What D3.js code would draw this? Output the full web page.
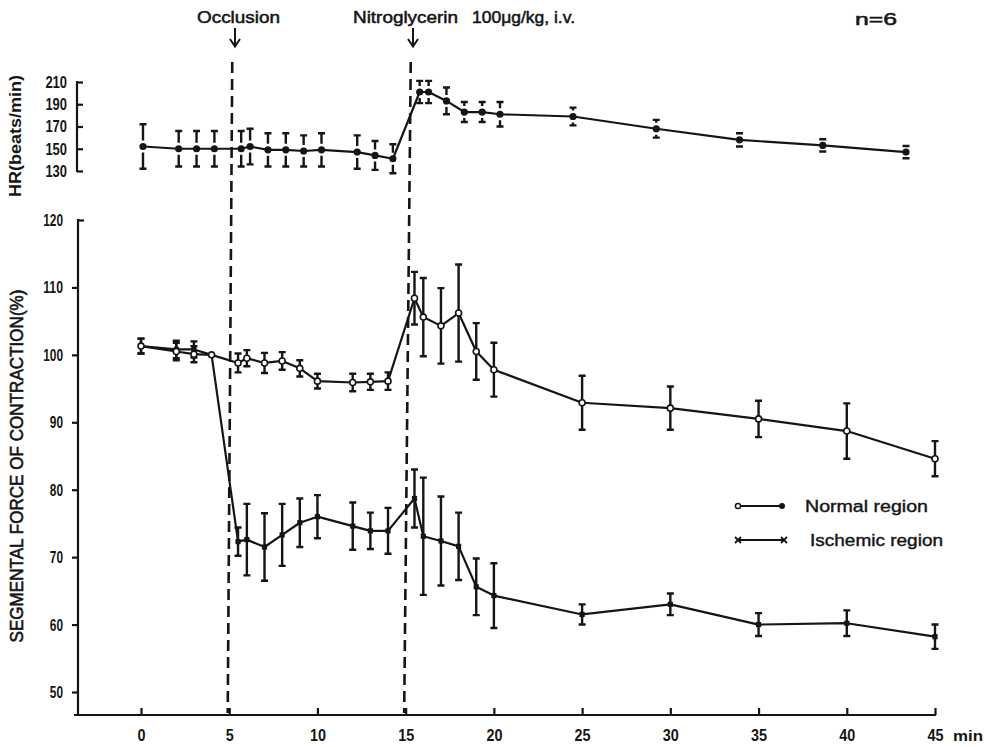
<!DOCTYPE html>
<html>
<head>
<meta charset="utf-8">
<script src="https://cdn.jsdelivr.net/npm/d3@7"></script>
<style>
  body { margin: 0; background: #fff; }
  text { font-family: "Liberation Sans", Arial, sans-serif; fill: #151515; }
</style>
</head>
<body>
<div id="canvas"></div>
<script>
// time points (min)
const times = [0, 2, 3, 4, 5.5, 6, 7, 8, 9, 10, 12, 13, 14, 15.5, 16, 17, 18, 19, 20, 25, 30, 35, 40, 45];

// heart rate (beats/min), mean and SD
const hrMean = [152, 150, 150, 150, 150, 152, 149, 149, 148, 149, 147, 144, 141, 201, 201, 193, 183, 183, 181, 179, 168, 158, 153, 147];
const hrSd = [20, 16, 16, 16, 16, 16, 15, 15, 14, 15, 15, 13, 13, 10, 10, 12, 9, 9, 11, 8, 8, 6, 5.5, 5.5];

// segmental force of contraction (%)
const normalMean = [101.3, 100.5, 100.1, 100.0, 98.8, 99.5, 98.8, 99.1, 98.0, 96.1, 95.9, 96.0, 96.1, 108.4, 105.6, 104.3, 106.2, 100.5, 97.8, 92.9, 92.1, 90.5, 88.7, 84.6];
const normalSd = [1.1, 1.3, 1.2, 0, 1.4, 1.2, 1.5, 1.3, 1.2, 1.1, 1.3, 1.2, 1.3, 3.9, 5.8, 5.6, 7.2, 4.2, 4.0, 4.0, 3.2, 2.7, 4.1, 2.6];
const ischemicMean = [101.3, 100.8, 100.8, 100.0, 72.3, 72.6, 71.5, 73.3, 75.1, 76.0, 74.6, 73.9, 73.9, 78.7, 73.1, 72.4, 71.6, 65.6, 64.3, 61.5, 63.0, 60.0, 60.2, 58.2];
const ischemicSd = [1.1, 1.3, 1.2, 0, 2.1, 5.3, 5.0, 4.6, 3.6, 3.2, 3.5, 2.7, 3.4, 4.3, 8.7, 6.6, 5.0, 4.2, 4.8, 1.5, 1.6, 1.7, 1.9, 1.8];

// axes
const xTicks = [0, 5, 10, 15, 20, 25, 30, 35, 40, 45];
const forceTicks = [50, 60, 70, 80, 90, 100, 110, 120];
const hrTicks = [130, 150, 170, 190, 210];

// events
const events = [
  { t: 5, label: "Occlusion" },
  { t: 15, label: "Nitroglycerin 100\u03bcg/kg, i.v." }
];

const width = 995;
const height = 747;
const ink = "#151515";

const svg = d3.select("#canvas").append("svg")
  .attr("width", width)
  .attr("height", height);

const x = d3.scaleLinear().domain([0, 45]).range([141, 935]);
// the top panel in the original is drawn a little narrower than the bottom one
const xHr = d3.scaleLinear().domain([0, 20, 25, 45]).range([143, 500, 573, 906]);
const y = d3.scaleLinear().domain([50, 120]).range([692, 220]);
const yHr = d3.scaleLinear().domain([130, 210]).range([171, 82]);

const axisBaseY = 715;
const axisLeftX = 78;

// ---- event lines
events.forEach((e) => {
  svg.append("line")
    .attr("x1", xHr(e.t)).attr("y1", 62)
    .attr("x2", x(e.t) - 1.5).attr("y2", axisBaseY - 2)
    .attr("stroke", ink)
    .attr("stroke-width", 2.6)
    .attr("stroke-dasharray", "11,6");
});

// arrows and labels at top
const arrow = (ax) => {
  svg.append("path")
    .attr("d", `M${ax},28 L${ax},46 M${ax - 5},39 L${ax},46.5 L${ax + 5},39`)
    .attr("fill", "none")
    .attr("stroke", ink)
    .attr("stroke-width", 2);
};
arrow(235);
arrow(413);

const topText = (tx, ty, str, len, size) => {
  svg.append("text")
    .attr("x", tx).attr("y", ty)
    .attr("textLength", len)
    .attr("lengthAdjust", "spacingAndGlyphs")
    .style("font-size", size + "px")
    .style("stroke", ink)
    .style("stroke-width", 0.5)
    .text(str);
};
topText(197, 23, "Occlusion", 83, 16);
topText(353, 23, "Nitroglycerin", 105, 16);
topText(472, 23, "100\u03bcg/kg, i.v.", 103, 16);
topText(855, 25, "n=6", 42, 16);

// ---- axes
const xAxis = svg.append("g")
  .attr("transform", `translate(0, ${axisBaseY})`)
  .call(d3.axisBottom(x).tickValues(xTicks).tickSize(-7).tickPadding(15).tickSizeOuter(0));
xAxis.select(".domain").remove();
xAxis.append("line")
  .attr("x1", 74).attr("x2", 936)
  .attr("stroke", ink).attr("stroke-width", 2.2);

const yAxis = svg.append("g")
  .attr("transform", `translate(${axisLeftX}, 0)`)
  .call(d3.axisLeft(y).tickValues(forceTicks).tickSize(6).tickPadding(9).tickSizeOuter(0));
yAxis.select(".domain").remove();
yAxis.append("line")
  .attr("y1", y(120) - 1).attr("y2", axisBaseY + 1)
  .attr("stroke", ink).attr("stroke-width", 2.2);
yAxis.selectAll(".tick").filter((d) => d === 120).select("line").attr("x2", 6);

const hrAxis = svg.append("g")
  .attr("transform", "translate(77, 0)")
  .call(d3.axisLeft(yHr).tickValues(hrTicks).tickSize(-6).tickPadding(10).tickSizeOuter(0));
hrAxis.select(".domain").remove();
hrAxis.append("line")
  .attr("y1", yHr(210) - 1).attr("y2", yHr(130) + 1)
  .attr("stroke", ink).attr("stroke-width", 2.2);

[xAxis, yAxis, hrAxis].forEach((a) => {
  a.selectAll(".tick line").attr("stroke", ink).attr("stroke-width", 2.2);
  a.selectAll(".tick text")
    .attr("fill", ink)
    .style("font-size", "17px")
    .style("font-weight", "bold")
    .style("font-family", "\"Liberation Sans\", Arial, sans-serif");
});
xAxis.selectAll(".tick text")
  .style("font-size", "16px")
  .attr("textLength", (d) => String(d).length * 8)
  .attr("lengthAdjust", "spacingAndGlyphs");
yAxis.selectAll(".tick text")
  .attr("textLength", (d) => String(d).length * 6.6)
  .attr("lengthAdjust", "spacingAndGlyphs");
hrAxis.selectAll(".tick text")
  .attr("textLength", (d) => String(d).length * 7.2)
  .attr("lengthAdjust", "spacingAndGlyphs");

svg.append("text")
  .attr("x", 953).attr("y", 741)
  .style("font-size", "15px")
  .style("font-weight", "bold")
  .attr("textLength", 30)
  .attr("lengthAdjust", "spacingAndGlyphs")
  .text("min");

// axis titles
svg.append("text")
  .attr("transform", "translate(23, 466) rotate(-90)")
  .attr("text-anchor", "middle")
  .attr("textLength", 353)
  .attr("lengthAdjust", "spacingAndGlyphs")
  .style("font-size", "18px")
  .style("stroke", ink)
  .style("stroke-width", 0.6)
  .text("SEGMENTAL  FORCE  OF  CONTRACTION(%)");

svg.append("text")
  .attr("transform", "translate(21, 136) rotate(-90)")
  .attr("text-anchor", "middle")
  .attr("textLength", 122)
  .attr("lengthAdjust", "spacingAndGlyphs")
  .style("font-size", "16px")
  .style("font-weight", "bold")
  .text("HR(beats/min)");

// ---- series
const drawBars = (g, xs, ys, rows, gap) => {
  rows.filter((r) => r.sd > 0).forEach((r) => {
    const cx = xs(r.t);
    const cy = ys(r.v);
    const top = ys(r.v + r.sd);
    const bot = ys(r.v - r.sd);
    g.append("path")
      .attr("d", `M${cx},${cy - gap} L${cx},${top} M${cx - 3.5},${top} L${cx + 3.5},${top}` +
        ` M${cx},${cy + gap} L${cx},${bot} M${cx - 3.5},${bot} L${cx + 3.5},${bot}`)
      .attr("fill", "none")
      .attr("stroke", ink)
      .attr("stroke-width", 2.4);
  });
};

const drawLine = (g, xs, ys, rows) => {
  g.append("path")
    .datum(rows)
    .attr("d", d3.line().x((r) => xs(r.t)).y((r) => ys(r.v)))
    .attr("fill", "none")
    .attr("stroke", ink)
    .attr("stroke-width", 2.2)
    .attr("stroke-linejoin", "round");
};

const toRows = (vals, sds) => times.map((t, i) => ({ t: t, v: vals[i], sd: sds[i] }));

const hrRows = toRows(hrMean, hrSd);
const normalRows = toRows(normalMean, normalSd);
const ischemicRows = toRows(ischemicMean, ischemicSd);

const gHr = svg.append("g");
drawBars(gHr, xHr, yHr, hrRows, 6);
drawLine(gHr, xHr, yHr, hrRows);
gHr.selectAll("circle").data(hrRows).enter().append("circle")
  .attr("cx", (r) => xHr(r.t))
  .attr("cy", (r) => yHr(r.v))
  .attr("r", 3.6)
  .attr("fill", ink);

const gIsch = svg.append("g");
drawBars(gIsch, x, y, ischemicRows, 0);
drawLine(gIsch, x, y, ischemicRows);
gIsch.selectAll("rect").data(ischemicRows).enter().append("rect")
  .attr("x", (r) => x(r.t) - 2.6)
  .attr("y", (r) => y(r.v) - 2.6)
  .attr("width", 5.2)
  .attr("height", 5.2)
  .attr("fill", ink);

const gNorm = svg.append("g");
drawBars(gNorm, x, y, normalRows, 0);
drawLine(gNorm, x, y, normalRows);
gNorm.selectAll("circle").data(normalRows).enter().append("circle")
  .attr("cx", (r) => x(r.t))
  .attr("cy", (r) => y(r.v))
  .attr("r", 3)
  .attr("fill", "#fff")
  .attr("stroke", ink)
  .attr("stroke-width", 1.6);

// ---- legend
const legend = svg.append("g");
legend.append("line")
  .attr("x1", 738).attr("x2", 782).attr("y1", 506).attr("y2", 506)
  .attr("stroke", ink).attr("stroke-width", 2);
legend.append("circle")
  .attr("cx", 738).attr("cy", 506).attr("r", 2.6)
  .attr("fill", "#fff").attr("stroke", ink).attr("stroke-width", 1.5);
legend.append("circle")
  .attr("cx", 782).attr("cy", 506).attr("r", 3)
  .attr("fill", ink);
legend.append("text")
  .attr("x", 805).attr("y", 512)
  .attr("textLength", 123)
  .attr("lengthAdjust", "spacingAndGlyphs")
  .style("font-size", "16px")
  .style("stroke", ink)
  .style("stroke-width", 0.4)
  .text("Normal  region");

legend.append("line")
  .attr("x1", 738).attr("x2", 784).attr("y1", 540).attr("y2", 540)
  .attr("stroke", ink).attr("stroke-width", 2);
[738, 784].forEach((lx) => {
  legend.append("path")
    .attr("d", `M${lx - 3},${537} L${lx + 3},${543} M${lx - 3},${543} L${lx + 3},${537}`)
    .attr("stroke", ink).attr("stroke-width", 1.8);
});
legend.append("text")
  .attr("x", 810).attr("y", 546)
  .attr("textLength", 133)
  .attr("lengthAdjust", "spacingAndGlyphs")
  .style("font-size", "16px")
  .style("stroke", ink)
  .style("stroke-width", 0.4)
  .text("Ischemic  region");
</script>
</body>
</html>
